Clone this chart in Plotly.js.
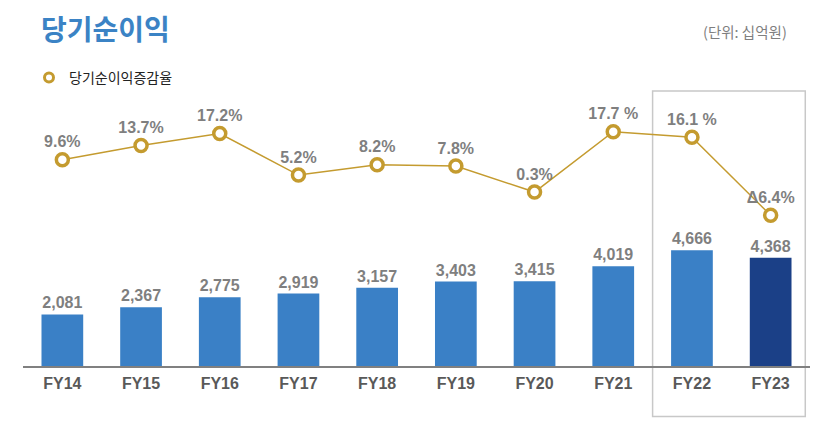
<!DOCTYPE html>
<html><head><meta charset="utf-8">
<script src="https://cdn.plot.ly/plotly-3.0.1.min.js"></script>
<style>html,body{margin:0;padding:0;background:#fff}#c{width:832px;height:436px}</style>
</head><body><div id="c"></div>
<script>
const categories = ["FY14","FY15","FY16","FY17","FY18","FY19","FY20","FY21","FY22","FY23"];
const netIncome = [2081,2367,2775,2919,3157,3403,3415,4019,4666,4368];
const incomeLabels = ["2,081","2,367","2,775","2,919","3,157","3,403","3,415","4,019","4,666","4,368"];
const growthRate = [9.6,13.7,17.2,5.2,8.2,7.8,0.3,17.7,16.1,-6.4];
const growthLabels = ["9.6%","13.7%","17.2%","5.2%","8.2%","7.8%","0.3%","17.7 %","16.1 %","Δ6.4%"];
const barColors = ["#3a80c6","#3a80c6","#3a80c6","#3a80c6","#3a80c6","#3a80c6","#3a80c6","#3a80c6","#3a80c6","#1b4087"];

const F = "Liberation Sans, Arial, Noto Sans CJK KR, sans-serif";
const KF = "Noto Sans CJK KR, sans-serif";
const gold = "#c49b2f";

const traces = [
  {type:"bar", x:categories, y:netIncome, text:incomeLabels, textposition:"outside",
   textfont:{family:F, size:16, color:"#7f7f7f", weight:"bold"},
   marker:{color:barColors}, showlegend:false, hoverinfo:"skip", cliponaxis:false},
  {type:"scatter", mode:"lines+markers+text", x:categories, y:growthRate, yaxis:"y2",
   text:growthLabels, textposition:"top center",
   textfont:{family:F, size:16, color:"#7f7f7f", weight:"bold"},
   line:{color:gold, width:1.5},
   marker:{symbol:"circle", size:12, color:"#ffffff", line:{color:gold, width:3.5}},
   showlegend:false, cliponaxis:false},
  {type:"scatter", mode:"markers", x:[null], y:[null], yaxis:"y2", name:"당기순이익증감율",
   marker:{symbol:"circle", size:9, color:"#ffffff", line:{color:gold, width:3}}, showlegend:true}
];

const layout = {
  width:832, height:436, paper_bgcolor:"#fff", plot_bgcolor:"#fff",
  margin:{l:23, r:22, t:100, b:70},
  title:{text:"<b>당기순이익</b>", x:41/832, xanchor:"left", xref:"container", y:1-30/436, yanchor:"middle", yref:"container",
    font:{family:KF, size:28, color:"#3b83c5"}},
  bargap:0.47,
  xaxis:{type:"category", range:[-0.5,9.5], showline:true, linecolor:"#808080", linewidth:2, showgrid:false, zeroline:false,
    ticks:"", ticklabelstandoff:2, tickfont:{family:F, size:16, color:"#595959", weight:"bold"}, fixedrange:true},
  yaxis:{range:[0,10726], visible:false, showgrid:false, zeroline:false},
  yaxis2:{range:[-49.85,26.85], overlaying:"y", visible:false, showgrid:false, zeroline:false},
  legend:{x:29/832, xref:"container", y:1-78/436, yref:"container", yanchor:"middle", xanchor:"left",
    orientation:"h", font:{family:KF, size:14, color:"#222"}, itemwidth:30, bgcolor:"rgba(0,0,0,0)"},
  shapes:[{type:"rect", xref:"x", yref:"paper", x0:7.5, x1:9.44, y0:-0.19, y1:1.034,
    line:{color:"#c8c8c8", width:1.5}, fillcolor:"rgba(0,0,0,0)", layer:"below"}],
  annotations:[{text:"(단위: 십억원)", xref:"paper", yref:"paper", x:(789-23)/787, xanchor:"right",
    y:(366-31)/266, yanchor:"middle", showarrow:false, font:{family:KF, size:14.5, color:"#7f7f7f"}}]
};
Plotly.newPlot("c", traces, layout, {staticPlot:true});
</script></body></html>
